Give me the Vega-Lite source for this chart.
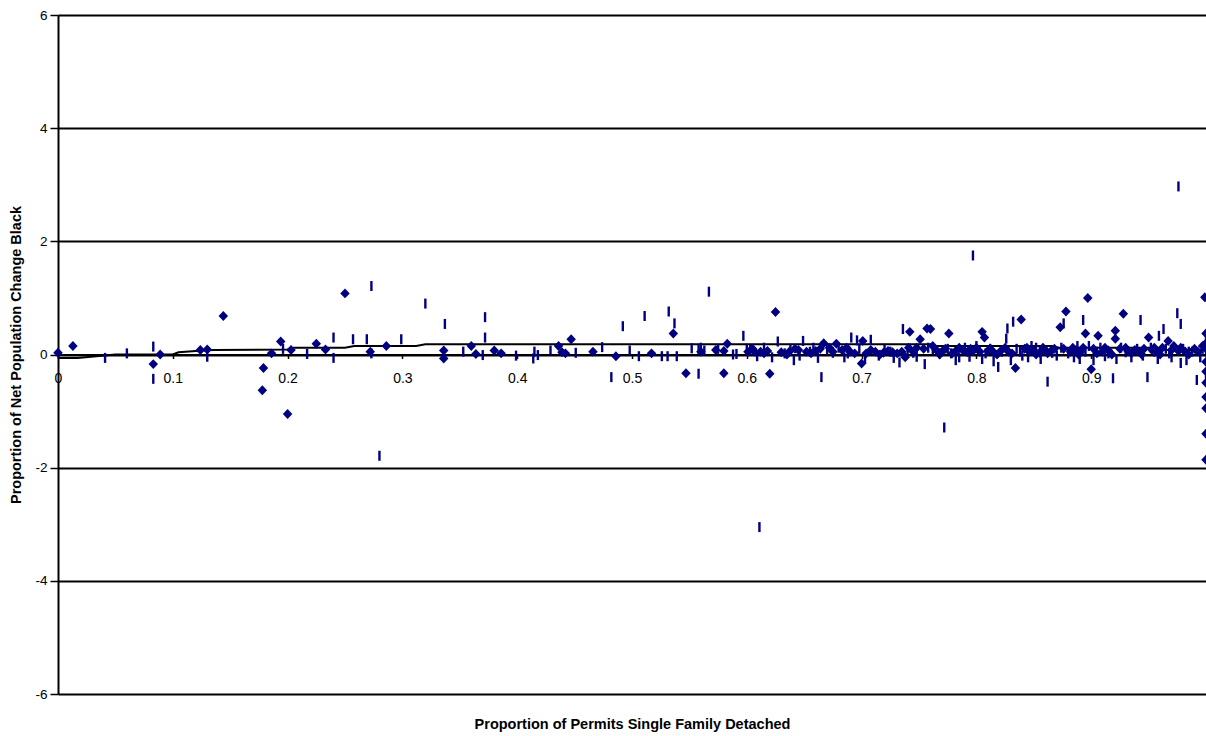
{
  "$schema": "https://vega.github.io/schema/vega-lite/v6.json",
  "width": 1148,
  "height": 679,
  "autosize": {"type": "none"},
  "padding": {"left": 58, "top": 15, "right": 0, "bottom": 42},
  "background": "white",
  "config": {"view": {"stroke": null}, "font": "Liberation Sans"},
  "datasets": {
    "trend": [
      {"x": 0, "y": -0.06}, {"x": 0.017, "y": -0.06}, {"x": 0.05, "y": 0.0}, {"x": 0.1, "y": 0.0},
      {"x": 0.105, "y": 0.04}, {"x": 0.12, "y": 0.06}, {"x": 0.135, "y": 0.08}, {"x": 0.2, "y": 0.09},
      {"x": 0.205, "y": 0.12}, {"x": 0.25, "y": 0.12}, {"x": 0.258, "y": 0.15}, {"x": 0.312, "y": 0.15},
      {"x": 0.32, "y": 0.18}, {"x": 0.76, "y": 0.18}, {"x": 0.765, "y": 0.15}, {"x": 0.866, "y": 0.15},
      {"x": 0.872, "y": 0.12}, {"x": 0.958, "y": 0.12}, {"x": 0.965, "y": 0.08}, {"x": 1.0, "y": 0.08}
    ],
    "dash": [
      {"x": 0.041, "y": -0.06}, {"x": 0.06, "y": 0.02}, {"x": 0.083, "y": 0.14}, {"x": 0.083, "y": -0.43},
      {"x": 0.13, "y": -0.04}, {"x": 0.196, "y": 0.1}, {"x": 0.217, "y": 0.01}, {"x": 0.24, "y": 0.3},
      {"x": 0.24, "y": -0.06}, {"x": 0.257, "y": 0.27}, {"x": 0.269, "y": 0.27}, {"x": 0.273, "y": 1.21},
      {"x": 0.273, "y": 0.02}, {"x": 0.28, "y": -1.79}, {"x": 0.299, "y": 0.27}, {"x": 0.32, "y": 0.9},
      {"x": 0.337, "y": 0.54}, {"x": 0.353, "y": 0.05}, {"x": 0.37, "y": -0.01}, {"x": 0.372, "y": 0.66},
      {"x": 0.372, "y": 0.3}, {"x": 0.399, "y": -0.02}, {"x": 0.414, "y": -0.07}, {"x": 0.415, "y": 0.05},
      {"x": 0.418, "y": -0.01}, {"x": 0.429, "y": 0.07}, {"x": 0.451, "y": 0.03}, {"x": 0.474, "y": 0.13},
      {"x": 0.482, "y": -0.4}, {"x": 0.492, "y": 0.5}, {"x": 0.498, "y": 0.07}, {"x": 0.506, "y": -0.03},
      {"x": 0.511, "y": 0.68}, {"x": 0.526, "y": -0.03}, {"x": 0.531, "y": -0.03}, {"x": 0.532, "y": 0.76},
      {"x": 0.537, "y": 0.55}, {"x": 0.539, "y": -0.03}, {"x": 0.552, "y": 0.11}, {"x": 0.558, "y": -0.34},
      {"x": 0.558, "y": 0.1}, {"x": 0.563, "y": 0.07}, {"x": 0.567, "y": 1.11}, {"x": 0.591, "y": 0.01},
      {"x": 0.597, "y": 0.33}, {"x": 0.609, "y": -0.03}, {"x": 0.611, "y": -3.05}, {"x": 0.627, "y": 0.23},
      {"x": 0.633, "y": 0.02}, {"x": 0.641, "y": -0.1}, {"x": 0.649, "y": 0.24}, {"x": 0.655, "y": 0.05},
      {"x": 0.665, "y": -0.4}, {"x": 0.675, "y": 0.03}, {"x": 0.685, "y": -0.05}, {"x": 0.691, "y": 0.3},
      {"x": 0.696, "y": 0.25}, {"x": 0.708, "y": 0.26}, {"x": 0.715, "y": -0.02}, {"x": 0.725, "y": 0.05},
      {"x": 0.733, "y": -0.14}, {"x": 0.736, "y": 0.45}, {"x": 0.745, "y": 0.03}, {"x": 0.755, "y": -0.17},
      {"x": 0.762, "y": 0.08}, {"x": 0.772, "y": -1.29}, {"x": 0.778, "y": 0.02}, {"x": 0.785, "y": -0.05},
      {"x": 0.797, "y": 1.75}, {"x": 0.805, "y": -0.08}, {"x": 0.812, "y": 0.1}, {"x": 0.819, "y": -0.22},
      {"x": 0.826, "y": 0.28}, {"x": 0.827, "y": 0.46}, {"x": 0.832, "y": 0.58}, {"x": 0.838, "y": 0.05},
      {"x": 0.845, "y": -0.05}, {"x": 0.852, "y": 0.12}, {"x": 0.862, "y": -0.48}, {"x": 0.866, "y": 0.03},
      {"x": 0.876, "y": 0.55}, {"x": 0.885, "y": -0.05}, {"x": 0.893, "y": 0.61}, {"x": 0.898, "y": 0.15},
      {"x": 0.905, "y": 0.05}, {"x": 0.912, "y": -0.03}, {"x": 0.919, "y": -0.42}, {"x": 0.93, "y": 0.04},
      {"x": 0.943, "y": 0.61}, {"x": 0.949, "y": -0.4}, {"x": 0.955, "y": 0.05}, {"x": 0.959, "y": 0.33},
      {"x": 0.963, "y": 0.45}, {"x": 0.97, "y": -0.05}, {"x": 0.975, "y": 0.73}, {"x": 0.976, "y": 2.97},
      {"x": 0.978, "y": 0.54}, {"x": 0.978, "y": -0.15}, {"x": 0.985, "y": 0.05}, {"x": 0.992, "y": -0.45},
      {"x": 0.997, "y": 0.1}, {"x": 1.0, "y": -0.35},
      {"x": 0.603, "y": 0.08}, {"x": 0.615, "y": 0.12}, {"x": 0.622, "y": -0.05}, {"x": 0.638, "y": 0.1},
      {"x": 0.646, "y": -0.02}, {"x": 0.658, "y": 0.12}, {"x": 0.662, "y": -0.06}, {"x": 0.67, "y": 0.08},
      {"x": 0.68, "y": 0.12}, {"x": 0.688, "y": 0.02}, {"x": 0.698, "y": 0.1}, {"x": 0.703, "y": -0.08},
      {"x": 0.72, "y": 0.1}, {"x": 0.728, "y": -0.06}, {"x": 0.74, "y": 0.08}, {"x": 0.748, "y": -0.04},
      {"x": 0.758, "y": 0.12}, {"x": 0.768, "y": 0.02}, {"x": 0.775, "y": 0.1}, {"x": 0.782, "y": -0.1},
      {"x": 0.79, "y": 0.12}, {"x": 0.794, "y": -0.04}, {"x": 0.8, "y": 0.15}, {"x": 0.808, "y": 0.02},
      {"x": 0.815, "y": -0.12}, {"x": 0.822, "y": 0.05}, {"x": 0.83, "y": -0.1}, {"x": 0.835, "y": 0.1},
      {"x": 0.84, "y": -0.02}, {"x": 0.848, "y": 0.15}, {"x": 0.856, "y": -0.08}, {"x": 0.858, "y": 0.1},
      {"x": 0.87, "y": -0.02}, {"x": 0.874, "y": 0.12}, {"x": 0.88, "y": 0.02}, {"x": 0.888, "y": 0.15},
      {"x": 0.89, "y": -0.08}, {"x": 0.895, "y": 0.05}, {"x": 0.902, "y": -0.1}, {"x": 0.908, "y": 0.12},
      {"x": 0.915, "y": 0.02}, {"x": 0.922, "y": -0.08}, {"x": 0.926, "y": 0.12}, {"x": 0.935, "y": -0.05},
      {"x": 0.94, "y": 0.1}, {"x": 0.945, "y": -0.02}, {"x": 0.952, "y": 0.12}, {"x": 0.958, "y": -0.08},
      {"x": 0.965, "y": 0.1}, {"x": 0.968, "y": 0.02}, {"x": 0.98, "y": 0.1}, {"x": 0.983, "y": -0.1},
      {"x": 0.988, "y": 0.05}, {"x": 0.995, "y": -0.05}, {"x": 1.0, "y": 0.05}, {"x": 1.0, "y": 0.25},
      {"x": 0.56, "y": 0.12}, {"x": 0.575, "y": 0.1}, {"x": 0.588, "y": 0.0}, {"x": 0.6, "y": 0.1}
    ],
    "diamond": [
      {"x": 0.0, "y": 0.03}, {"x": 0.013, "y": 0.15}, {"x": 0.083, "y": -0.17}, {"x": 0.089, "y": 0.0},
      {"x": 0.124, "y": 0.08}, {"x": 0.13, "y": 0.09}, {"x": 0.144, "y": 0.68}, {"x": 0.179, "y": -0.24},
      {"x": 0.178, "y": -0.63}, {"x": 0.186, "y": 0.02}, {"x": 0.194, "y": 0.23}, {"x": 0.203, "y": 0.08},
      {"x": 0.2, "y": -1.05}, {"x": 0.225, "y": 0.19}, {"x": 0.233, "y": 0.09}, {"x": 0.25, "y": 1.08},
      {"x": 0.272, "y": 0.05}, {"x": 0.286, "y": 0.15}, {"x": 0.336, "y": 0.07}, {"x": 0.336, "y": -0.07},
      {"x": 0.36, "y": 0.15}, {"x": 0.364, "y": 0.01}, {"x": 0.38, "y": 0.07}, {"x": 0.386, "y": 0.02},
      {"x": 0.436, "y": 0.15}, {"x": 0.439, "y": 0.04}, {"x": 0.442, "y": 0.02}, {"x": 0.447, "y": 0.27},
      {"x": 0.466, "y": 0.05}, {"x": 0.486, "y": -0.03}, {"x": 0.517, "y": 0.02}, {"x": 0.536, "y": 0.37},
      {"x": 0.547, "y": -0.33}, {"x": 0.56, "y": 0.05}, {"x": 0.573, "y": 0.08}, {"x": 0.58, "y": -0.33},
      {"x": 0.58, "y": 0.06}, {"x": 0.583, "y": 0.19}, {"x": 0.601, "y": 0.05}, {"x": 0.607, "y": 0.05},
      {"x": 0.612, "y": 0.05}, {"x": 0.618, "y": 0.06}, {"x": 0.62, "y": -0.34}, {"x": 0.625, "y": 0.75},
      {"x": 0.63, "y": 0.04}, {"x": 0.637, "y": 0.05}, {"x": 0.645, "y": 0.08}, {"x": 0.652, "y": 0.05},
      {"x": 0.66, "y": 0.06}, {"x": 0.667, "y": 0.2}, {"x": 0.672, "y": 0.12}, {"x": 0.678, "y": 0.19},
      {"x": 0.683, "y": 0.08}, {"x": 0.69, "y": 0.05}, {"x": 0.7, "y": -0.16}, {"x": 0.701, "y": 0.24},
      {"x": 0.704, "y": 0.02}, {"x": 0.712, "y": 0.05}, {"x": 0.719, "y": 0.03}, {"x": 0.727, "y": 0.04},
      {"x": 0.731, "y": 0.02}, {"x": 0.738, "y": -0.05}, {"x": 0.742, "y": 0.4}, {"x": 0.745, "y": 0.05},
      {"x": 0.748, "y": 0.12}, {"x": 0.751, "y": 0.27}, {"x": 0.754, "y": 0.1}, {"x": 0.757, "y": 0.46},
      {"x": 0.76, "y": 0.45}, {"x": 0.765, "y": 0.08}, {"x": 0.77, "y": 0.05}, {"x": 0.776, "y": 0.37},
      {"x": 0.782, "y": 0.06}, {"x": 0.788, "y": 0.08}, {"x": 0.792, "y": 0.04}, {"x": 0.797, "y": 0.06},
      {"x": 0.8, "y": 0.12}, {"x": 0.805, "y": 0.4}, {"x": 0.807, "y": 0.3}, {"x": 0.803, "y": 0.05},
      {"x": 0.81, "y": 0.06}, {"x": 0.815, "y": 0.04}, {"x": 0.822, "y": 0.08}, {"x": 0.828, "y": 0.05},
      {"x": 0.834, "y": -0.24}, {"x": 0.839, "y": 0.62}, {"x": 0.842, "y": 0.1}, {"x": 0.846, "y": 0.05},
      {"x": 0.85, "y": 0.07}, {"x": 0.855, "y": 0.03}, {"x": 0.86, "y": 0.08}, {"x": 0.865, "y": 0.06},
      {"x": 0.868, "y": 0.1}, {"x": 0.873, "y": 0.48}, {"x": 0.878, "y": 0.76}, {"x": 0.882, "y": 0.05},
      {"x": 0.887, "y": 0.08}, {"x": 0.891, "y": 0.05}, {"x": 0.895, "y": 0.37}, {"x": 0.897, "y": 1.0},
      {"x": 0.9, "y": -0.26}, {"x": 0.902, "y": 0.1}, {"x": 0.906, "y": 0.33}, {"x": 0.91, "y": 0.05},
      {"x": 0.915, "y": 0.07}, {"x": 0.921, "y": 0.42}, {"x": 0.921, "y": 0.28}, {"x": 0.925, "y": 0.1},
      {"x": 0.928, "y": 0.72}, {"x": 0.932, "y": 0.06}, {"x": 0.938, "y": 0.08}, {"x": 0.942, "y": 0.05},
      {"x": 0.946, "y": 0.1}, {"x": 0.95, "y": 0.3}, {"x": 0.953, "y": 0.08}, {"x": 0.958, "y": 0.05},
      {"x": 0.962, "y": 0.12}, {"x": 0.967, "y": 0.24}, {"x": 0.972, "y": 0.15}, {"x": 0.976, "y": 0.06},
      {"x": 0.982, "y": 0.05}, {"x": 0.99, "y": 0.1}, {"x": 0.999, "y": 1.01}, {"x": 1.0, "y": 0.37},
      {"x": 1.0, "y": 0.2}, {"x": 1.0, "y": 0.1}, {"x": 1.0, "y": -0.13}, {"x": 1.0, "y": -0.3},
      {"x": 1.0, "y": -0.5}, {"x": 1.0, "y": -0.75}, {"x": 1.0, "y": -0.95}, {"x": 1.0, "y": -1.4},
      {"x": 1.0, "y": -1.86},
      {"x": 0.605, "y": 0.1}, {"x": 0.615, "y": 0.02}, {"x": 0.635, "y": 0.0}, {"x": 0.642, "y": 0.1},
      {"x": 0.656, "y": 0.02}, {"x": 0.664, "y": 0.1}, {"x": 0.675, "y": 0.05}, {"x": 0.687, "y": 0.12},
      {"x": 0.694, "y": 0.02}, {"x": 0.708, "y": 0.08}, {"x": 0.716, "y": 0.0}, {"x": 0.723, "y": 0.06},
      {"x": 0.735, "y": 0.05}, {"x": 0.741, "y": 0.12}, {"x": 0.762, "y": 0.15}, {"x": 0.768, "y": 0.0},
      {"x": 0.773, "y": 0.1}, {"x": 0.779, "y": 0.02}, {"x": 0.785, "y": 0.12}, {"x": 0.795, "y": 0.1},
      {"x": 0.812, "y": 0.1}, {"x": 0.818, "y": 0.0}, {"x": 0.825, "y": 0.12}, {"x": 0.831, "y": 0.02},
      {"x": 0.844, "y": 0.12}, {"x": 0.852, "y": 0.0}, {"x": 0.858, "y": 0.12}, {"x": 0.862, "y": 0.02},
      {"x": 0.876, "y": 0.1}, {"x": 0.884, "y": 0.12}, {"x": 0.889, "y": 0.0}, {"x": 0.893, "y": 0.12},
      {"x": 0.905, "y": 0.02}, {"x": 0.912, "y": 0.12}, {"x": 0.918, "y": 0.0}, {"x": 0.93, "y": 0.12},
      {"x": 0.935, "y": 0.02}, {"x": 0.944, "y": 0.0}, {"x": 0.955, "y": 0.12}, {"x": 0.96, "y": 0.0},
      {"x": 0.97, "y": 0.08}, {"x": 0.978, "y": 0.12}, {"x": 0.985, "y": 0.0}, {"x": 0.993, "y": 0.05},
      {"x": 0.997, "y": 0.15}
    ]
  },
  "encoding": {
    "x": {
      "field": "x", "type": "quantitative",
      "scale": {"domain": [0, 1], "nice": false, "zero": false},
      "axis": {
        "orient": "bottom", "offset": -339.5, "grid": false,
        "values": [0, 0.1, 0.2, 0.3, 0.4, 0.5, 0.6, 0.7, 0.8, 0.9],
        "labelExpr": "datum.value + ''",
        "labelFontSize": 14, "labelColor": "black", "labelPadding": 13, "labelFlush": false,
        "tickSize": 4, "tickColor": "black", "tickWidth": 1.5,
        "domainColor": "black", "domainWidth": 2,
        "title": "Proportion of Permits Single Family Detached",
        "titleFontSize": 14.5, "titleFontWeight": "bold", "titleColor": "black",
        "titleX": 574, "titleY": 369.5, "titleAlign": "center", "titleBaseline": "middle"
      }
    },
    "y": {
      "field": "y", "type": "quantitative",
      "scale": {"domain": [-6, 6], "nice": false, "zero": false},
      "axis": {
        "values": [-6, -4, -2, 0, 2, 4, 6],
        "labelExpr": "datum.value + ''",
        "grid": true, "gridColor": "black", "gridWidth": 2, "gridOpacity": 1,
        "labelFontSize": 13.5, "labelColor": "black", "labelPadding": 3,
        "tickSize": 8, "tickColor": "black", "tickWidth": 1.5,
        "domainColor": "black", "domainWidth": 2,
        "title": "Proportion of Net Population Change Black",
        "titleFontSize": 14.5, "titleFontWeight": "bold", "titleColor": "black",
        "titleX": -42, "titleY": 339.5, "titleAngle": -90, "titleAlign": "center", "titleBaseline": "middle"
      }
    }
  },
  "layer": [
    {
      "data": {"name": "trend"},
      "mark": {"type": "line", "color": "black", "strokeWidth": 2}
    },
    {
      "data": {"name": "dash"},
      "mark": {"type": "point", "shape": "M-0.24,-1H0.24V1H-0.24Z", "filled": true, "color": "#000080", "size": 100, "opacity": 1}
    },
    {
      "data": {"name": "diamond"},
      "mark": {"type": "point", "shape": "M0,-1.05L1,0L0,1.05L-1,0Z", "filled": true, "color": "#000080", "size": 90, "opacity": 1}
    }
  ]
}
